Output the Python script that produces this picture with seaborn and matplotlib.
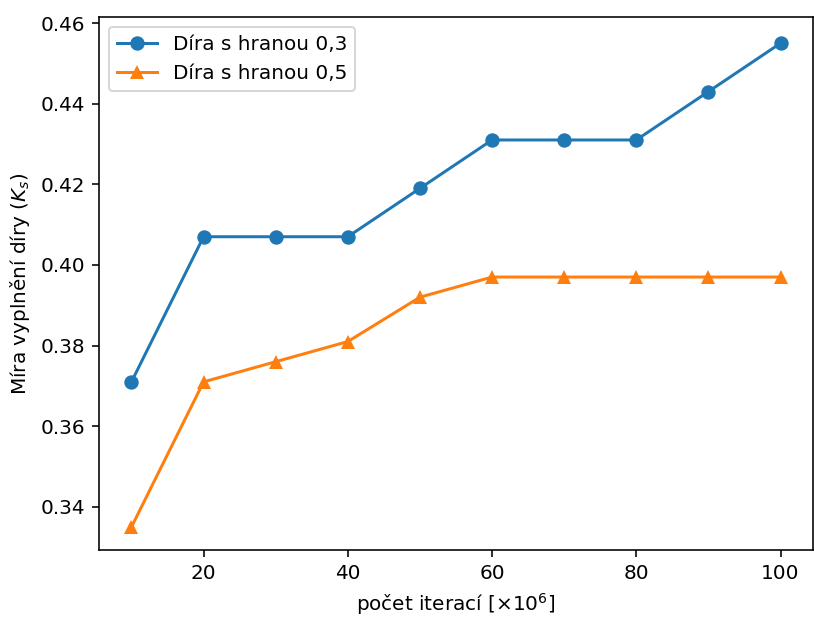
import pandas as pd
import matplotlib
matplotlib.use('Agg')
import matplotlib.pyplot as plt
import seaborn as sns

ITERATIONS = [10, 20, 30, 40, 50, 60, 70, 80, 90, 100]
FILL_EDGE_03 = [0.371, 0.407, 0.407, 0.407, 0.419, 0.431, 0.431, 0.431, 0.443, 0.455]
FILL_EDGE_05 = [0.335, 0.371, 0.376, 0.381, 0.392, 0.397, 0.397, 0.397, 0.397, 0.397]
LABEL_03 = 'Díra s hranou 0,3'
LABEL_05 = 'Díra s hranou 0,5'

OUTPUT_PNG_FILE = 'out.png'


def plot_fill_ratio(output_png):
    df = pd.DataFrame({
        'iter': ITERATIONS * 2,
        'value': FILL_EDGE_03 + FILL_EDGE_05,
        'series': [LABEL_03] * len(ITERATIONS) + [LABEL_05] * len(ITERATIONS),
    })

    dpi = 144
    fig, ax = plt.subplots(figsize=(814 / dpi, 620 / dpi), dpi=dpi)
    fig.subplots_adjust(left=99 / 814, right=813 / 814, top=1 - 17 / 620, bottom=1 - 550 / 620)

    sns.lineplot(data=df, x='iter', y='value', hue='series', style='series',
                 markers={LABEL_03: 'o', LABEL_05: '^'}, dashes=False,
                 palette=['#1f77b4', '#ff7f0e'], markersize=7.2, markeredgewidth=0,
                 linewidth=1.5, ax=ax)

    ax.set_xlabel('počet iterací [$\\times 10^6$]')
    ax.set_ylabel('Míra vyplnění díry ($K_s$)')
    ax.set_xticks([20, 40, 60, 80, 100])
    ax.set_yticks([0.34, 0.36, 0.38, 0.40, 0.42, 0.44, 0.46])
    ax.set_ylim(0.3293, 0.4615)
    ax.set_xlim(5.5, 104.5)
    ax.legend(title=None, loc='upper left')

    plt.savefig(output_png, dpi=dpi)


if __name__ == '__main__':
    plot_fill_ratio(OUTPUT_PNG_FILE)
